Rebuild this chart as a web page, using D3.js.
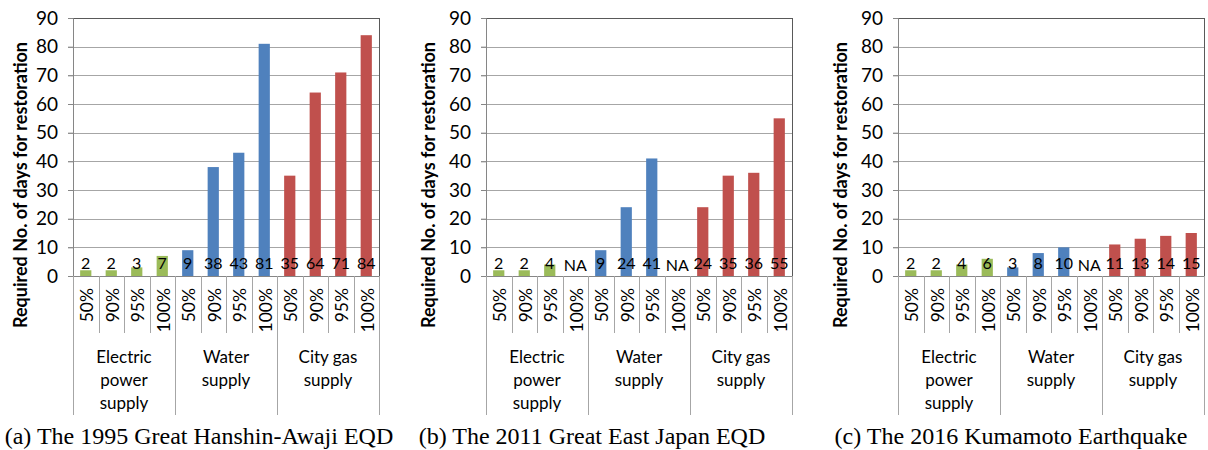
<!DOCTYPE html>
<html>
<head>
<meta charset="utf-8">
<script src="https://cdn.jsdelivr.net/npm/d3@7"></script>
<style>
  html, body { margin: 0; padding: 0; background: #fff; }
  svg { display: block; }
  .lbl { font-family: Lato, "Open Sans", sans-serif; fill: #000; }
  .cap { font-family: "Liberation Serif", "Times New Roman", serif; fill: #000; }
</style>
</head>
<body>
<svg id="chart" width="1208" height="450"></svg>
<script>
// Restoration levels within each lifeline and the lifelines themselves
const levels = ["50%", "90%", "95%", "100%"];
const lifelines = ["Electric power supply", "Water supply", "City gas supply"];
const lifelineLines = [["Electric", "power", "supply"], ["Water", "supply"], ["City gas", "supply"]];
const lifelineColors = ["#9bbb59", "#4f81bd", "#c0504d"];

// Days needed to reach each restoration level (null = not available)
const hanshinDays   = [2, 2, 3, 7,    9, 38, 43, 81,    35, 64, 71, 84];
const eastJapanDays = [2, 2, 4, null, 9, 24, 41, null,  24, 35, 36, 55];
const kumamotoDays  = [2, 2, 4, 6,    3, 8, 10, null,   11, 13, 14, 15];

const yTicks = [0, 10, 20, 30, 40, 50, 60, 70, 80, 90];
const yTitle = "Required No. of days for restoration";
const captions = [
  "(a) The 1995 Great Hanshin-Awaji EQD",
  "(b) The 2011 Great East Japan EQD",
  "(c) The 2016 Kumamoto Earthquake"
];
const panelDays = [hanshinDays, eastJapanDays, kumamotoDays];

// Layout of the three panels
const plotLeft = [73, 486, 898];
const titleX = [20, 428, 840];
const captionX = [199, 592, 1011];
const plotW = 306, plotTop = 18, plotBottom = 276;

const svg = d3.select("#chart");

const cells = [];
lifelines.forEach((g, gi) => levels.forEach((l, li) => cells.push({ gi, li, key: gi + "-" + li })));

const y = d3.scaleLinear().domain([0, 90]).range([plotBottom, plotTop]);

panelDays.forEach((days, p) => {
  const x = d3.scaleBand().domain(cells.map(c => c.key)).range([0, plotW]).padding(0);
  const bw = x.bandwidth();
  const g = svg.append("g").attr("transform", `translate(${plotLeft[p]},0)`);

  // horizontal gridlines with outward ticks
  g.append("g").selectAll("line").data(yTicks.slice(1)).join("line")
    .attr("x1", -5).attr("x2", plotW)
    .attr("y1", d => Math.round(y(d)) + 0.5).attr("y2", d => Math.round(y(d)) + 0.5)
    .attr("stroke", d => d === 90 ? "#595959" : "#a6a6a6").attr("stroke-width", 1);

  // left axis via d3.axisLeft
  const ax = g.append("g").call(d3.axisLeft(y).tickValues(yTicks).tickSize(5).tickPadding(10));
  ax.select(".domain").attr("stroke", "#868686");
  ax.selectAll(".tick line").attr("stroke", "#868686");
  ax.selectAll(".tick text").attr("class", "lbl").attr("font-size", 19).attr("fill", "#000")
    .attr("font-family", "Lato, 'Open Sans', sans-serif");

  // right border
  g.append("line").attr("x1", plotW + 0.5).attr("x2", plotW + 0.5)
    .attr("y1", plotTop).attr("y2", plotBottom).attr("stroke", "#595959");

  // bars
  g.append("g").selectAll("rect").data(cells.filter((c, i) => days[i] != null)).join("rect")
    .attr("x", c => x(c.key) + bw * 0.28)
    .attr("width", bw * 0.44)
    .attr("y", c => y(days[cells.indexOf(c)]))
    .attr("height", c => plotBottom - y(days[cells.indexOf(c)]))
    .attr("fill", c => lifelineColors[c.gi]);

  // category axis line
  g.append("line").attr("x1", -5).attr("x2", plotW).attr("y1", plotBottom + 0.5).attr("y2", plotBottom + 0.5)
    .attr("stroke", "#868686");

  // value labels at the bar base
  g.append("g").selectAll("text").data(cells).join("text")
    .attr("class", "lbl")
    .attr("x", c => x(c.key) + bw / 2)
    .attr("y", (c, i) => days[i] == null ? 271 : 269)
    .attr("text-anchor", "middle")
    .attr("font-size", 16)
    .text((c, i) => days[i] == null ? "NA" : days[i]);

  // separators between level cells and lifeline groups
  const bounds = d3.range(cells.length + 1);
  g.append("g").selectAll("line").data(bounds).join("line")
    .attr("x1", i => Math.round(i * bw) + 0.5).attr("x2", i => Math.round(i * bw) + 0.5)
    .attr("y1", plotBottom).attr("y2", i => i % levels.length === 0 ? 415 : 333)
    .attr("stroke", "#a6a6a6");

  // rotated level labels
  g.append("g").selectAll("text").data(cells).join("text")
    .attr("class", "lbl")
    .attr("font-size", 17.5)
    .attr("text-anchor", "end")
    .attr("dominant-baseline", "central")
    .attr("transform", c => `translate(${x(c.key) + bw / 2 + 1},288) rotate(-90)`)
    .text(c => levels[c.li]);

  // lifeline group labels
  lifelineLines.forEach((lines, gi) => {
    const cx = (gi * levels.length + levels.length / 2) * bw;
    g.append("text").attr("class", "lbl").attr("font-size", 17).attr("text-anchor", "middle")
      .selectAll("tspan").data(lines).join("tspan")
      .attr("x", cx).attr("y", (d, i) => 363 + i * 23).text(d => d);
  });

  // y-axis title
  svg.append("text").attr("class", "lbl").attr("font-weight", "bold").attr("font-size", 18)
    .attr("text-anchor", "middle").attr("dominant-baseline", "central")
    .attr("transform", `translate(${titleX[p]},185) rotate(-90)`)
    .text(yTitle);

  // caption
  svg.append("text").attr("class", "cap").attr("font-size", 24).attr("text-anchor", "middle")
    .attr("x", captionX[p]).attr("y", 444).text(captions[p]);
});
</script>
</body>
</html>
